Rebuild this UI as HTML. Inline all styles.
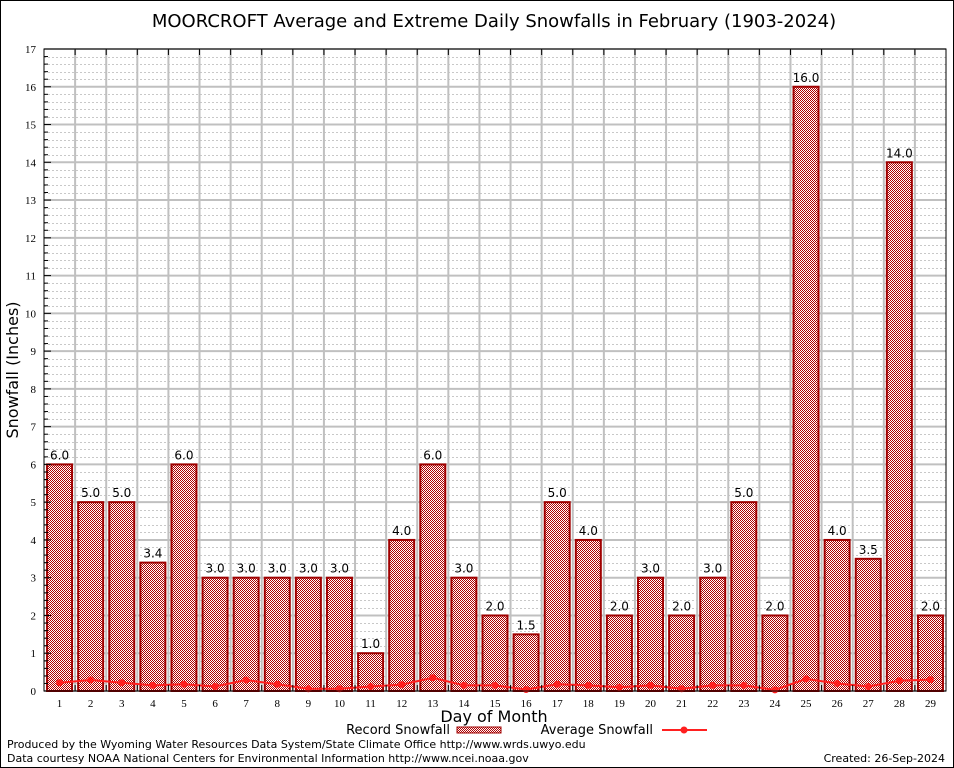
<!DOCTYPE html>
<html><head><meta charset="utf-8"><style>
body{margin:0;background:#fff;}
svg{display:block;font-family:"DejaVu Sans","Liberation Sans",sans-serif;}
</style></head><body>
<svg id="c" width="954" height="768" viewBox="0 0 954 768">
<defs>
<pattern id="chk" width="2" height="2" patternUnits="userSpaceOnUse">
<rect width="2" height="2" fill="#fff"/><rect width="1" height="1" fill="#b00000"/><rect x="1" y="1" width="1" height="1" fill="#b00000"/>
</pattern>
</defs>
<rect x="0.5" y="0.5" width="953" height="767" fill="#fff" stroke="#000"/>
<text x="494" y="27" font-size="18" text-anchor="middle">MOORCROFT Average and Extreme Daily Snowfalls in February (1903-2024)</text>
<g id="grid"></g>
<g id="bars"></g>
<g id="avg"></g>
<g id="axes"></g>
<text x="18" y="370" font-size="16" text-anchor="middle" transform="rotate(-90 18 370)">Snowfall (Inches)</text>
<text x="494" y="722" font-size="16" text-anchor="middle">Day of Month</text>
<g>
<text x="450" y="734" font-size="13" text-anchor="end">Record Snowfall</text>
<rect x="457" y="727" width="44" height="6" fill="url(#chk)" stroke="#a00000"/>
</g>
<g>
<text x="653" y="734" font-size="13" text-anchor="end">Average Snowfall</text>
<line x1="662" y1="730" x2="707" y2="730" stroke="#ff2020" stroke-width="2"/>
<circle cx="684" cy="730" r="3.5" fill="#ff2020"/>
</g>
<text x="7" y="748" font-size="11">Produced by the Wyoming Water Resources Data System/State Climate Office http://www.wrds.uwyo.edu</text>
<text x="7" y="762" font-size="11">Data courtesy NOAA National Centers for Environmental Information http://www.ncei.noaa.gov</text>
<text x="945" y="762" font-size="11" text-anchor="end">Created: 26-Sep-2024</text>
</svg>
<script>
const days=[1,2,3,4,5,6,7,8,9,10,11,12,13,14,15,16,17,18,19,20,21,22,23,24,25,26,27,28,29];
const recordSnow=[6,5,5,3.4,6,3,3,3,3,3,1,4,6,3,2,1.5,5,4,2,3,2,3,5,2,16,4,3.5,14,2];
const avgSnow=[0.22,0.29,0.22,0.15,0.18,0.12,0.29,0.18,0.06,0.06,0.12,0.17,0.35,0.15,0.15,0.04,0.18,0.15,0.1,0.15,0.06,0.15,0.15,0.03,0.32,0.2,0.12,0.27,0.3];
const yTicks=[0,1,2,3,4,5,6,7,8,9,10,11,12,13,14,15,16,17];
const L=44,R=946,T=49,B=691,YMAX=17;
const NS="http://www.w3.org/2000/svg";
const slot=(R-L)/days.length;
const xs=i=>L+slot*(i+0.5);
const ys=v=>B-(B-T)*v/YMAX;
function mk(tag,attrs,parent){const e=document.createElementNS(NS,tag);for(const k in attrs)e.setAttribute(k,attrs[k]);parent.appendChild(e);return e;}
const grid=document.getElementById('grid'),bars=document.getElementById('bars'),avg=document.getElementById('avg'),axes=document.getElementById('axes');
for(let k=1;k<YMAX*5;k++){if(k%5===0)continue;const y=Math.round(ys(k/5))+0.5;mk('line',{x1:L,x2:R,y1:y,y2:y,stroke:'#c8c8c8','stroke-dasharray':'2,2'},grid);}
yTicks.forEach(v=>{const y=ys(v);const g=mk('line',{x1:L,x2:R,y1:y,y2:y,stroke:'#c0c0c0','stroke-width':2},grid);

const t=mk('text',{x:L-8,y:y+4,'font-size':11,'text-anchor':'end','font-family':'Liberation Serif, serif'},axes);t.textContent=v;
});
for(let i=1;i<days.length;i++){const x=L+slot*i;mk('line',{x1:x,x2:x,y1:T,y2:B,stroke:'#c0c0c0','stroke-width':2},grid);
mk('line',{x1:x,x2:x,y1:T,y2:T+6,stroke:'#000'},axes);mk('line',{x1:x,x2:x,y1:B,y2:B-6,stroke:'#000'},axes);}
for(let k=1;k<YMAX*5;k++){const y=ys(k/5);mk('line',{x1:L,x2:L+(k%5?4:7),y1:y,y2:y,stroke:'#000'},axes);}
mk('rect',{x:L,y:T,width:R-L,height:B-T,fill:'none',stroke:'#000'},axes);
days.forEach((d,i)=>{const v=recordSnow[i],x=xs(i),w=25;
const r=mk('rect',{x:x-w/2,y:ys(v),width:w,height:B-ys(v),fill:'url(#chk)',stroke:'#a00000','stroke-width':2},bars);

const t=mk('text',{x:x,y:ys(v)-5,'font-size':12,'text-anchor':'middle'},bars);t.textContent=v.toFixed(1);

const xl=mk('text',{x:x,y:B+16,'font-size':11,'text-anchor':'middle','font-family':'Liberation Serif, serif'},axes);xl.textContent=d;
});
const pl=mk('polyline',{points:avgSnow.map((v,i)=>xs(i)+','+ys(v)).join(' '),fill:'none',stroke:'#ff2020','stroke-width':2},avg);

avgSnow.forEach((v,i)=>{const c=mk('circle',{cx:xs(i),cy:ys(v),r:3.5,fill:'#ff2020'},avg);
});
</script>
</body></html>
